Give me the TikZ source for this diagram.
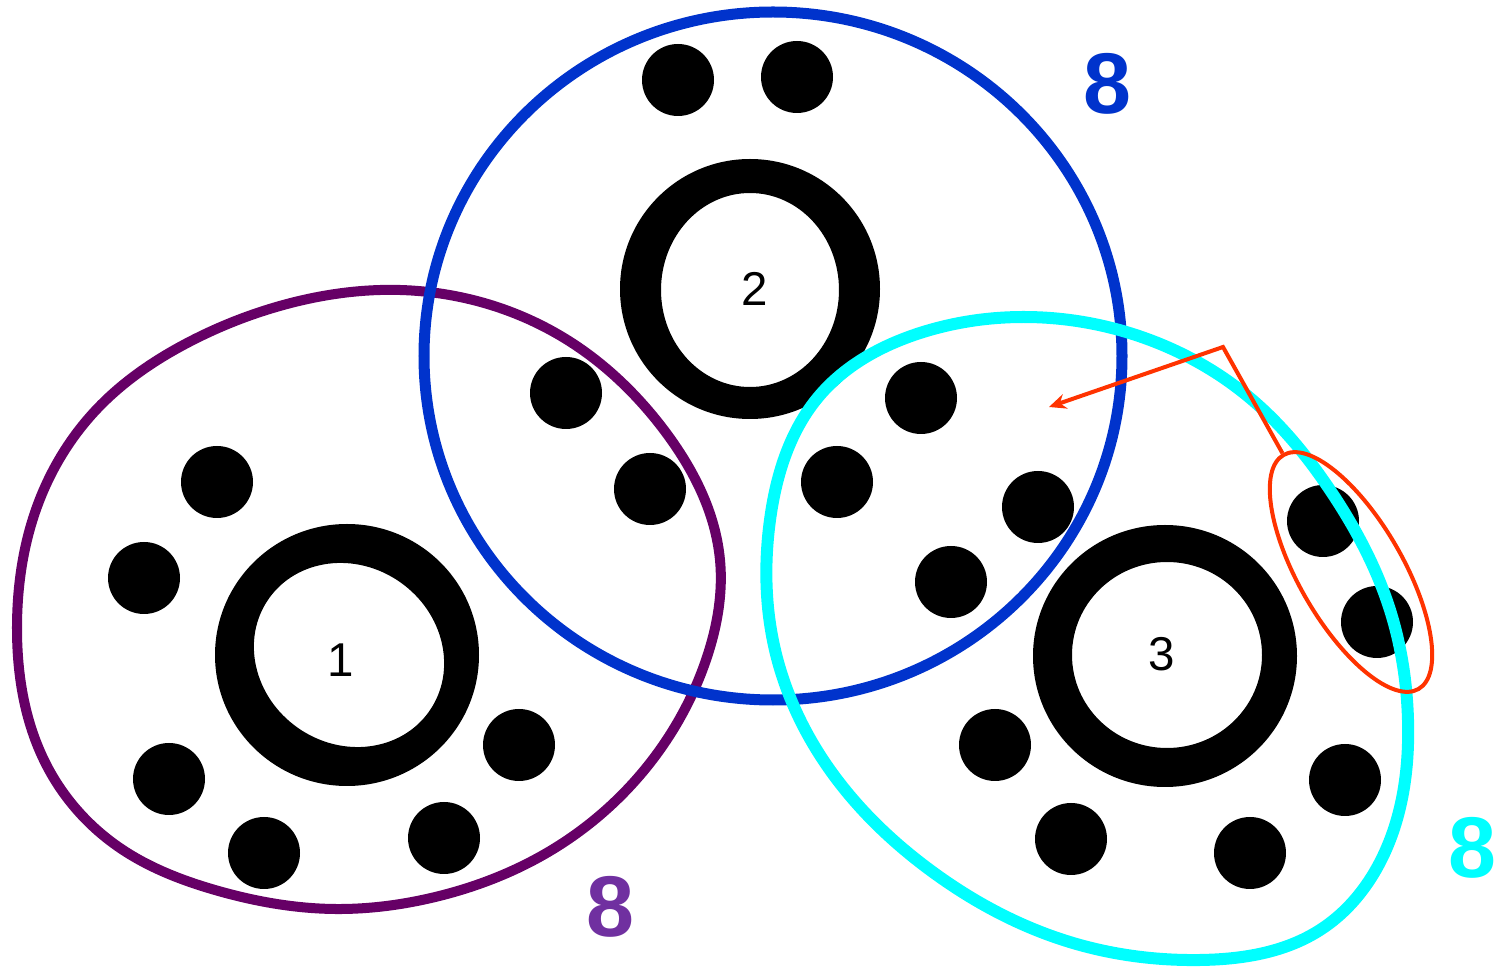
\documentclass[tikz,border=0pt]{standalone}
\usepackage{fontspec}
\setmainfont{Liberation Sans}
\usetikzlibrary{arrows.meta,shapes.geometric,hobby}
\definecolor{hullpurple}{HTML}{660066}
\definecolor{numpurple}{HTML}{7030A0}
\definecolor{hullblue}{HTML}{0033CC}
\definecolor{hullcyan}{HTML}{00FFFF}
\definecolor{markred}{HTML}{FF3300}
\begin{document}
\begin{tikzpicture}[x=0.01cm,y=-0.01cm,
    hull/.style={line width=0.1cm},
    ring/.style={fill=black,even odd rule},
    count/.style={font=\fontsize{24.5}{25}\selectfont\bfseries},
    tag/.style={font=\fontsize{13.5}{14}\selectfont}]
  \useasboundingbox (0,0) rectangle (1499,967);
  % the three sets
  \draw[hull,hullpurple] plot[closed hobby] coordinates {(400,290) (569,341) (664,430)
    (720,560) (706,660) (646,768) (550,851) (431,898) (335,909) (215,890) (120,848)
    (48,768) (17,627) (38,504) (96,410) (191,341) (287,304)};
  \draw[hull,hullblue,line width=0.11cm] (773,356) ellipse [x radius=349, y radius=344];
  % rings and dots
  \fill[ring] (347,655) ellipse [x radius=132, y radius=131]
    [rotate around={-35:(349,655)}] (349,655) ellipse [x radius=98, y radius=89];
  \fill[ring] (750,289) ellipse [x radius=130, y radius=130] (750,290) ellipse [x radius=89, y radius=97];
  \fill[ring] (1165,656) ellipse [x radius=132, y radius=131] (1167,655) ellipse [x radius=95, y radius=93];
  \foreach \x/\y in {217/482,144/578,169/779,264/853,444/838,519/745,
      678/80,797/77,566/393,650/489,921/398,837/482,1038/507,951/582,
      995/745,1071/839,1250/853,1345/780,1323/521,1377/622}{
    \fill (\x,\y) circle [radius=36];
  }
  \draw[hull,hullcyan,line width=0.12cm] plot[closed hobby] coordinates {(1023,317)
    (1150,340) (1250,398) (1330,490) (1390,610) (1408,720) (1390,840) (1320,930)
    (1200,960) (1073,943) (930,870) (830,770) (775,650) (770,520) (820,395) (920,333)};
  % pair and arrow
  \node[draw=markred, line width=0.04cm, ellipse, rotate=-60, inner sep=0pt,
    minimum width=2.7cm, minimum height=1.04cm] (pair) at (1351,572) {};
  \coordinate (bend) at (1223,347);
  \coordinate (tip) at (1049,407);
  \draw[markred, line width=0.04cm, -{Stealth[length=0.17cm,width=0.15cm]}] (pair.west) -- (bend) -- (tip);
  % labels
  \node[tag] (n1) at (341,660) {1};
  \node[tag] (n2) at (755,289) {2};
  \node[tag] (n3) at (1162,654) {3};
  \node[count,text=numpurple] (k1) at (610,907) {8};
  \node[count,text=hullblue] (k2) at (1107,84) {8};
  \node[count,text=hullcyan] (k3) at (1472,848) {8};
\end{tikzpicture}
\end{document}
